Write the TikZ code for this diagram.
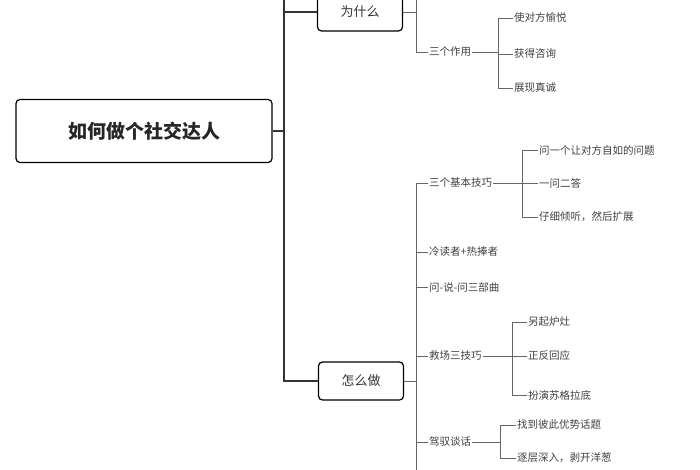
\documentclass[tikz,border=0pt]{standalone}
\usepackage{fontspec}
\setmainfont{Noto Sans CJK SC}
\usetikzlibrary{positioning}
\begin{document}
\begin{tikzpicture}[x=1pt,y=-1pt,
            root node/.style={draw, line width=1.2pt, rounded corners=4pt, minimum width=256pt, minimum height=63pt, font=\fontsize{19}{19}\selectfont\bfseries, text=black!85},
            topic node/.style={draw, line width=1.2pt, rounded corners=4pt, minimum width=85pt, minimum height=38pt, font=\fontsize{13}{13}\selectfont, text=black!80},
            leaf node/.style={anchor=west, inner sep=1pt, font=\fontsize{10.5}{10.5}\selectfont, text=black!75},
            trunk/.style={line width=1.2pt, black!80},
            branch/.style={line width=0.6pt, black!60}]
            \useasboundingbox (0,0) rectangle (700,470);

            \node[root node] (Root) at (144,131) {如何做个社交达人};
            \node[topic node] (Why) at (360,12) {为什么};
            \node[topic node] (How) at (361,381) {怎么做};

            % trunk
            \coordinate (t0) at (284,0);
            \draw[trunk] (Root.east) -- (284,131);
            \draw[trunk] (t0) |- (How.west);
            \draw[trunk] (284,12) -- (Why.west);

            % why branch
            \node[leaf node] (Use) at (428,52) {三个作用};
            \node[leaf node] (u1) at (513,18) {使对方愉悦};
            \node[leaf node] (u2) at (513,54) {获得咨询};
            \node[leaf node] (u3) at (513,88) {展现真诚};
            \coordinate (w0) at (416,0);
            \draw[branch] (Why.east) -- (416,12);
            \draw[branch] (w0) |- (Use.west);
            \draw[branch] (Use.east) -- (498,52);
            \foreach \n in {u1,u2,u3}
                \draw[branch] (498,52) |- (\n.west);

            % how branch
            \node[leaf node] (Basic) at (428,183) {三个基本技巧};
            \node[leaf node] (Cold) at (428,252) {冷读者+热捧者};
            \node[leaf node] (Ask) at (428,287) {问-说-问三部曲};
            \node[leaf node] (Save) at (428,356) {救场三技巧};
            \node[leaf node] (Lead) at (428,442) {驾驭谈话};
            \coordinate (h1) at (416,470);
            \draw[branch] (How.east) -- (416,381);
            \draw[branch] (h1) |- (Basic.west);
            \foreach \n in {Cold,Ask,Save,Lead}
                \draw[branch] (\n.west) -- ++(-12,0);

            \node[leaf node] (b1) at (538,150) {问一个让对方自如的问题};
            \node[leaf node] (b2) at (538,183) {一问二答};
            \node[leaf node] (b3) at (538,217) {仔细倾听，然后扩展};
            \draw[branch] (Basic.east) -- (522,183);
            \foreach \n in {b1,b2,b3}
                \draw[branch] (522,183) |- (\n.west);

            \node[leaf node] (s1) at (527,322) {另起炉灶};
            \node[leaf node] (s2) at (527,356) {正反回应};
            \node[leaf node] (s3) at (527,395) {扮演苏格拉底};
            \draw[branch] (Save.east) -- (512,356);
            \foreach \n in {s1,s2,s3}
                \draw[branch] (512,356) |- (\n.west);

            \node[leaf node] (l1) at (516,425) {找到彼此优势话题};
            \node[leaf node] (l2) at (516,458) {逐层深入，剥开洋葱};
            \draw[branch] (Lead.east) -- (500,442);
            \foreach \n in {l1,l2}
                \draw[branch] (500,442) |- (\n.west);
        \end{tikzpicture}
\end{document}
